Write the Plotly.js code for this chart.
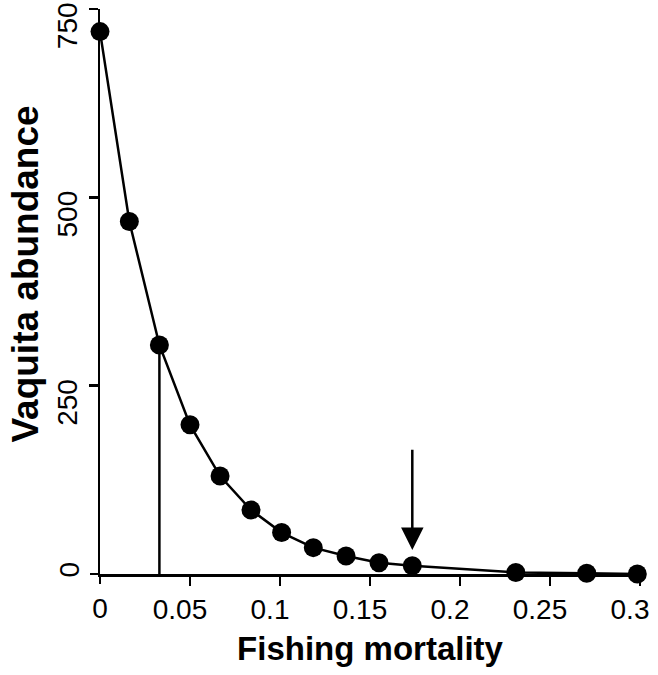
<!DOCTYPE html>
<html>
<head>
<meta charset="utf-8">
<script src="https://cdn.plot.ly/plotly-3.0.1.min.js"></script>
<style>html,body{margin:0;padding:0;background:#fff;}#chart{width:658px;height:675px;}</style>
</head>
<body>
<div id="chart"></div>
<script>
// Data
const fishingMortality = [0, 0.0163, 0.033, 0.05, 0.0667, 0.0839, 0.1009, 0.1185, 0.1367, 0.155, 0.1735, 0.231, 0.2704, 0.2985];
const vaquitaAbundance = [720, 468, 304, 198, 130, 85, 55, 35, 24, 15, 11, 2, 1, 0];
const xTickVals = [0.05, 0.1, 0.15, 0.2, 0.25, 0.3];
const xTickText = ['0.05', '0.1', '0.15', '0.2', '0.25', '0.3'];
const yTickVals = [250, 500, 750];
const yTickText = ['250', '500', '750'];
const xTitle = 'Fishing mortality';
const yTitle = 'Vaquita abundance';
const markerIndex = 2;           // vertical line drops from this point
const arrowIndex = 10;           // arrow points to this point
const arrowTop = 167;
const arrowTip = 32;

const FONT = 'Liberation Sans, Arial, Helvetica, sans-serif';

const trace = {
  x: fishingMortality,
  y: vaquitaAbundance,
  mode: 'lines+markers',
  type: 'scatter',
  line: {color: '#000', width: 2.5},
  marker: {color: '#000', size: 19},
  cliponaxis: false,
  hoverinfo: 'skip'
};

const axisCommon = {
  showgrid: false, zeroline: false,
  showline: true, linecolor: '#000', linewidth: 2.5,
  ticks: 'outside', ticklen: 9, tickwidth: 2.5, tickcolor: '#000',
  tickfont: {family: FONT, size: 28, color: '#000'},
  fixedrange: true
};

const layout = {
  width: 658, height: 675,
  margin: {l: 100, r: 18, t: 9, b: 101},
  paper_bgcolor: '#fff', plot_bgcolor: '#fff',
  showlegend: false,
  xaxis: Object.assign({}, axisCommon, {
    range: [0, 0.3],
    tickmode: 'array', tickvals: xTickVals, ticktext: xTickText,
    ticklabelshift: -10,
    title: {text: xTitle, font: {family: FONT, size: 33, color: '#000', weight: 'bold'}, standoff: 13}
  }),
  xaxis2: {
    overlaying: 'x', range: [0, 0.3], showline: false, showgrid: false, zeroline: false,
    ticks: 'outside', ticklen: 9, tickwidth: 2.5, tickcolor: '#000',
    tickmode: 'array', tickvals: [0], ticktext: ['0'],
    tickfont: {family: FONT, size: 28, color: '#000'}, anchor: 'y', side: 'bottom', fixedrange: true
  },
  yaxis: Object.assign({}, axisCommon, {
    range: [0, 750],
    tickmode: 'array', tickvals: yTickVals, ticktext: yTickText,
    tickangle: -90,
    ticklabelshift: 21
  }),
  yaxis2: {
    overlaying: 'y', range: [0, 750], showline: false, showgrid: false, zeroline: false,
    ticks: 'outside', ticklen: 9, tickwidth: 2.5, tickcolor: '#000',
    tickmode: 'array', tickvals: [0], ticktext: ['0'], tickangle: -90,
    tickfont: {family: FONT, size: 28, color: '#000'}, anchor: 'x', side: 'left', fixedrange: true
  },
  shapes: [{
    type: 'line', xref: 'x', yref: 'y',
    x0: fishingMortality[markerIndex], x1: fishingMortality[markerIndex],
    y0: 0, y1: vaquitaAbundance[markerIndex],
    line: {color: '#000', width: 2.5}
  }],
  annotations: [{
    xref: 'x', yref: 'y', axref: 'x', ayref: 'y',
    x: fishingMortality[arrowIndex], y: arrowTip,
    ax: fishingMortality[arrowIndex], ay: arrowTop,
    text: '', showarrow: true, arrowhead: 2, arrowsize: 1.8, arrowwidth: 2.5, arrowcolor: '#000'
  }, {
    xref: 'paper', yref: 'paper', x: -0.137, y: 0.53,
    xanchor: 'center', yanchor: 'middle', textangle: -90, showarrow: false,
    text: '<b>' + yTitle + '</b>',
    font: {family: FONT, size: 37, color: '#000'}
  }]
};

const helper = {x: [0], y: [0], xaxis: 'x2', yaxis: 'y2', mode: 'markers', marker: {opacity: 0}, hoverinfo: 'skip'};

Plotly.newPlot('chart', [trace, helper], layout, {displayModeBar: false, staticPlot: true});
</script>
</body>
</html>
